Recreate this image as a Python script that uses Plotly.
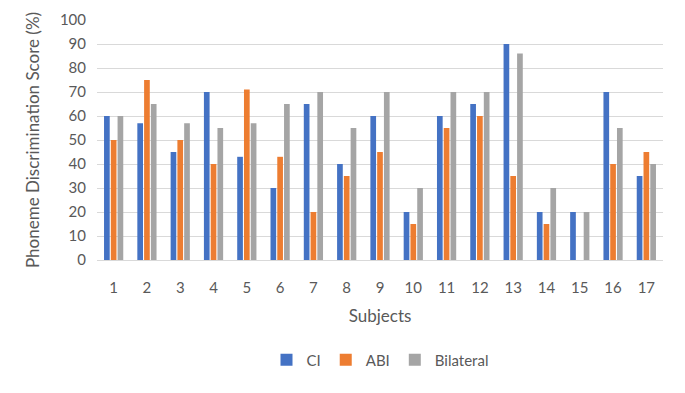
import plotly.graph_objects as go

subjects = [str(i) for i in range(1, 18)]
ci = [60, 57, 45, 70, 43, 30, 65, 40, 60, 20, 60, 65, 90, 20, 20, 70, 35]
abi = [50, 75, 50, 40, 71, 43, 20, 35, 45, 15, 55, 60, 35, 15, 0, 40, 45]
bilateral = [60, 65, 57, 55, 57, 65, 70, 55, 70, 30, 70, 70, 86, 30, 20, 55, 40]

series = [("CI", ci, "#4472C4"), ("ABI", abi, "#ED7D31"), ("Bilateral", bilateral, "#A5A5A5")]

fig = go.Figure()
for name, vals, col in series:
    fig.add_trace(go.Bar(x=subjects, y=vals, name=name, marker=dict(color=col, line=dict(width=0))))

font_family = "Lato, 'Open Sans', sans-serif"
fig.update_layout(
    width=685, height=393,
    margin=dict(l=97, r=22, t=20, b=133),
    paper_bgcolor="white", plot_bgcolor="white",
    barmode="group", bargap=0.39, bargroupgap=0.16,
    font=dict(family=font_family, color="#595959", size=15),
    legend=dict(orientation="h", x=0.5, xanchor="center", y=-0.417, yanchor="middle",
                font=dict(size=15, color="#595959"), itemwidth=30, traceorder="normal"),
    xaxis=dict(title=dict(text="Subjects", font=dict(size=17, color="#595959")),
               automargin=False,
               showgrid=False, showline=True, linecolor="#d9d9d9", linewidth=1,
               ticks="", ticklabelstandoff=14, tickfont=dict(size=15, color="#595959")),
    yaxis=dict(title=dict(text="Phoneme Discrimination Score (%)", font=dict(size=17, color="#595959")),
               automargin=False,
               range=[0, 100], dtick=10, showgrid=True, gridcolor="#d9d9d9", gridwidth=1,
               zeroline=False, showline=False, ticks="", ticklabelstandoff=10,
               tickfont=dict(size=15, color="#595959")),
)

fig.write_html("out.html")
